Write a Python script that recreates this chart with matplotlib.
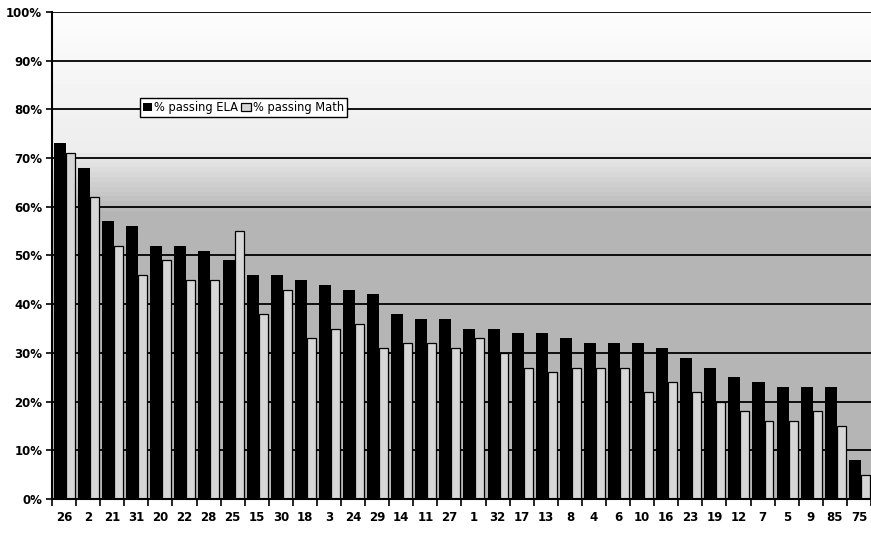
import numpy as np
import matplotlib
matplotlib.use("Agg")
import matplotlib.pyplot as plt

# schools, sorted by % passing ELA
schools = ["26", "2", "21", "31", "20", "22", "28", "25", "15", "30", "18", "3",
           "24", "29", "14", "11", "27", "1", "32", "17", "13", "8", "4", "6",
           "10", "16", "23", "19", "12", "7", "5", "9", "85", "75"]
ela = [73, 68, 57, 56, 52, 52, 51, 49, 46, 46, 45, 44, 43, 42, 38, 37, 37, 35,
       35, 34, 34, 33, 32, 32, 32, 31, 29, 27, 25, 24, 23, 23, 23, 8]
math = [71, 62, 52, 46, 49, 45, 45, 55, 38, 43, 33, 35, 36, 31, 32, 32, 31, 33,
        30, 27, 26, 27, 27, 27, 22, 24, 22, 20, 18, 16, 16, 18, 15, 5]
yticks = [0, 10, 20, 30, 40, 50, 60, 70, 80, 90, 100]

x = np.arange(len(schools))

fig = plt.figure(figsize=(8.71, 5.33), dpi=100)
ax = fig.add_axes([0.0597, 0.0638, 0.9403, 0.9137])

# background: nearly white at the top, darkening into grey below 60%
grad = np.concatenate([np.full(58, 0.71), np.linspace(0.71, 0.93, 14),
                       np.linspace(0.93, 0.99, 28)])
bg = np.repeat(grad[:, None], 2, axis=1)
ax.imshow(bg, cmap="gray", vmin=0, vmax=1, aspect="auto",
          extent=(-0.5, len(schools) - 0.5, 0, 100), origin="lower", zorder=0)

for t in yticks[1:]:
    ax.axhline(t, color="black", lw=1.3, zorder=1)

ax.bar(x - 0.17, ela, width=0.5, color="black", zorder=2,
       label="% passing ELA")
ax.bar(x + 0.265, math, width=0.37, color="#d6d6d6", edgecolor="black",
       linewidth=0.9, zorder=2, label="% passing Math")

ax.set_xlim(-0.5, len(schools) - 0.79)
ax.set_ylim(0, 100)

ax.set_yticks(yticks)
ax.set_yticklabels([f"{t}%" for t in yticks], fontsize=8.5, fontweight="bold")
ax.set_xticks(x)
ax.set_xticklabels(schools, fontsize=8.5, fontweight="bold")
ax.set_xticks(np.arange(len(schools) + 1) - 0.5, minor=True)
ax.tick_params(axis="x", which="major", length=0, pad=9)
ax.tick_params(axis="x", which="minor", length=5, width=1.2, direction="out")
ax.tick_params(axis="y", length=4, width=1.2, direction="out", pad=3)

for s in ["top", "right"]:
    ax.spines[s].set_visible(False)
for s in ["left", "bottom"]:
    ax.spines[s].set_linewidth(1.5)
    ax.spines[s].set_zorder(3)

leg = ax.legend(loc="upper left", bbox_to_anchor=(0.107, 0.823), ncol=2,
                fontsize=8.3, frameon=True, fancybox=False, framealpha=1,
                edgecolor="black", handlelength=0.8, handleheight=0.8,
                handletextpad=0.2, columnspacing=0.3, borderpad=0.25,
                borderaxespad=0)
leg.get_frame().set_linewidth(1.0)
leg.set_zorder(4)

fig.savefig("out.png", dpi=100)
